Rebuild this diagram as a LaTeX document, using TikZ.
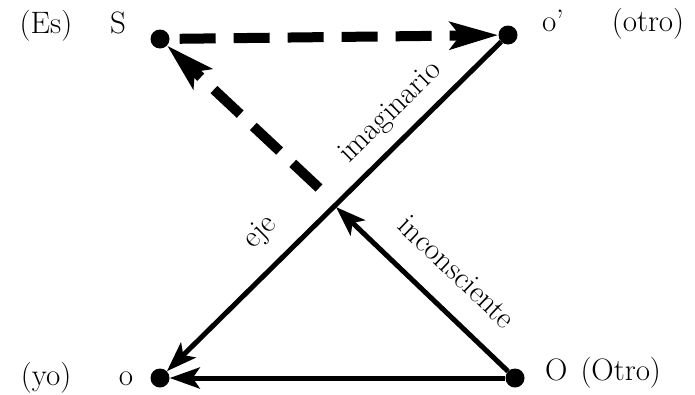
\documentclass[tikz,border=0pt]{standalone}
\usepackage{fontspec}
\usetikzlibrary{arrows.meta}
\begin{document}
\begin{tikzpicture}[x=1pt,y=-1pt,
  dot/.style={circle,fill=black,inner sep=0pt,minimum size=19pt},
  lab/.style={font=\fontsize{31}{36}\selectfont,inner sep=0pt,anchor=base},
  slab/.style={font=\fontsize{31}{36}\selectfont,inner sep=0pt},
  solidarrow/.style={line width=5pt,-{Stealth[length=30pt,width=21pt,inset=7pt]}},
  dasharrow/.style={line width=10pt,dash pattern=on 36pt off 18pt,-{Stealth[length=48pt,width=27pt,inset=10pt]}}]
\useasboundingbox (0,0) rectangle (695,394);
% points
\node[dot] (S) at (160,39) {};
\node[dot] (op) at (508,35) {};
\node[dot] (o) at (160,378) {};
\node[dot] (O) at (515,378) {};
\coordinate (X) at (336,207);
\coordinate (D) at (319,188);
% connectors
\draw[solidarrow] (op) -- (o);
\draw[solidarrow] (O) -- (o);
\draw[solidarrow] (O) -- (X);
\draw[dasharrow,shorten <=10pt] (S) -- (op);
\draw[dasharrow] (D) -- (S);
% labels
\node[lab] (tEs) at (46,33) {(Es)};
\node[lab] (tS) at (118,33) {S};
\node[lab] (top) at (553,31) {o’};
\node[lab] (totro) at (648,31) {(otro)};
\node[lab] (tyo) at (46,385) {(yo)};
\node[lab] (to) at (126,385) {o};
\node[lab,anchor=base west] (tO) at (545,380) {O\hspace{13pt}(Otro)};
\node[slab,rotate=44.6] (timag) at (391,113) {imaginario};
\node[slab,rotate=44.6] (teje) at (261,233) {eje};
\node[slab,rotate=-43.7] (tinc) at (457,272) {inconsciente};
\end{tikzpicture}
\end{document}
